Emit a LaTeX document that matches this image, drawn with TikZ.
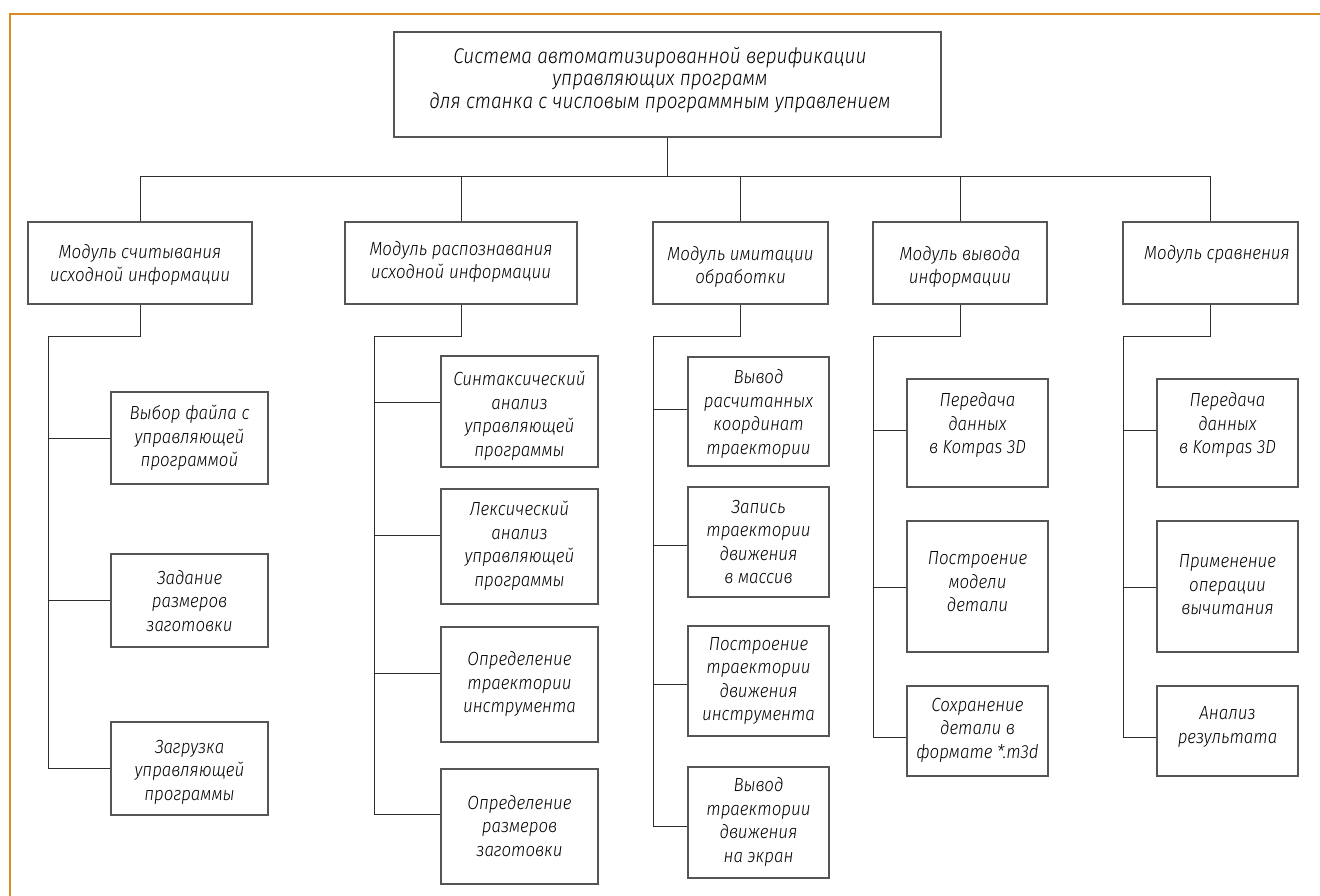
\documentclass[tikz,border=0pt]{standalone}
\usepackage{fontspec}
\setmainfont{Fira Sans}[UprightFont={* Light}, ItalicFont={* Light Italic}, FakeStretch=0.89]
\usetikzlibrary{fit,calc}
\definecolor{frameor}{RGB}{214,140,34}
\definecolor{ln}{RGB}{45,45,45}
\definecolor{bx}{RGB}{85,85,85}
\tikzset{
  blk/.style={draw=bx, line width=1.1pt, inner sep=0pt, fill=none},
  txt/.style={align=center, inner sep=0pt, font=\fontsize{19}{23.5}\selectfont\itshape},
  ttl/.style={align=center, inner sep=0pt, font=\fontsize{21.3}{22.5}\selectfont\itshape},
  wire/.style={draw=ln, line width=0.9pt}
}
\newcommand\blk[7]{%
  \node[blk, fit={(#2,#3) (#4,#5)}] (#1) {};
  \node[txt] (#1t) at (#1.center |- 0,#6) {#7};%
}
\begin{document}
\begin{tikzpicture}[x=1pt,y=-1pt]
\useasboundingbox (0,0) rectangle (1320,896);
\fill[white] (0,0) rectangle (1320,896);
\draw[frameor, line width=2pt] (1320,14) -- (10,14) -- (10,896);

% title
\node[blk, fit={(394,32) (941,137)}] (T) {};
\node[ttl] (Tt) at (660,80) {Система автоматизированной верификации\\ управляющих программ\\ для станка с числовым программным управлением};

% modules
\blk{M1}{28}{222}{252}{304}{265}{Модуль считывания\\исходной информации}
\blk{M2}{345}{222}{577}{304}{262}{Модуль распознавания\\исходной информации}
\blk{M3}{653}{222}{828}{304}{267}{Модуль имитации\\обработки}
\blk{M4}{873}{222}{1047}{304}{267}{Модуль вывода\\информации}
\node[blk, fit={(1123,222) (1298,304)}] (M5) {};
\node[txt] (M5t) at (1217,254) {Модуль сравнения};

% column 1
\blk{S11}{111}{392}{268}{484}{438}{Выбор файла с\\управляющей\\программой}
\blk{S12}{111}{554}{268}{647}{601}{Задание\\размеров\\заготовки}
\blk{S13}{111}{722}{268}{815}{772}{Загрузка\\управляющей\\программы}
% column 2
\blk{S21}{441}{356}{598}{467}{416}{Синтаксический\\анализ\\управляющей\\программы}
\blk{S22}{441}{489}{598}{604}{546}{Лексический\\анализ\\управляющей\\программы}
\blk{S23}{441}{627}{598}{742}{684}{Определение\\траектории\\инструмента}
\blk{S24}{441}{769}{598}{884}{826}{Определение\\размеров\\заготовки}
% column 3
\blk{S31}{688}{357}{829}{466}{414}{Вывод\\расчитанных\\координат\\траектории}
\blk{S32}{688}{487}{829}{597}{542}{Запись\\траектории\\движения\\в массив}
\blk{S33}{688}{626}{829}{736}{681}{Построение\\траектории\\движения\\инструмента}
\blk{S34}{688}{767}{829}{878}{822}{Вывод\\траектории\\движения\\на экран}
% column 4
\blk{S41}{907}{379}{1048}{487}{425}{Передача\\данных\\в Kompas 3D}
\blk{S42}{907}{521}{1048}{652}{582}{Построение\\модели\\детали}
\blk{S43}{907}{686}{1048}{776}{730}{Сохранение\\детали в\\формате *.m3d}
% column 5
\blk{S51}{1157}{379}{1298}{487}{425}{Передача\\данных\\в Kompas 3D}
\blk{S52}{1157}{521}{1298}{652}{585}{Применение\\операции\\вычитания}
\blk{S53}{1157}{686}{1298}{776}{727}{Анализ\\результата}

% top bus
\coordinate (bus) at (667.5,176);
\draw[wire] (T.south) -- (bus);
\draw[wire] (M1.north) |- (bus);
\draw[wire] (M5.north) |- (bus);
\draw[wire] (M2.north) -- (M2.north |- bus);
\draw[wire] (M3.north) -- (M3.north |- bus);
\draw[wire] (M4.north) -- (M4.north |- bus);

% trunks
\coordinate (V1) at (48,336);
\coordinate (V2) at (374,336);
\coordinate (V3) at (653,336);
\coordinate (V4) at (873,336);
\coordinate (V5) at (1123,336);
\draw[wire] (M1.south) |- (V1) -- (V1 |- 0,768);
\draw[wire] (M2.south) |- (V2) -- (V2 |- 0,814);
\draw[wire] (M3.south) |- (V3) -- (V3 |- 0,826);
\draw[wire] (M4.south) |- (V4) -- (V4 |- 0,737);
\draw[wire] (M5.south) |- (V5) -- (V5 |- 0,737);

% branches
\foreach \s/\v/\y in {S11/V1/438, S12/V1/600, S13/V1/768,
  S21/V2/402, S22/V2/535, S23/V2/673, S24/V2/814,
  S31/V3/409, S32/V3/545, S33/V3/684, S34/V3/826,
  S41/V4/430, S42/V4/587, S43/V4/737,
  S51/V5/430, S52/V5/587, S53/V5/737}
  \draw[wire] (\v |- 0,\y) -- (\s.west |- 0,\y);
\end{tikzpicture}
\end{document}
